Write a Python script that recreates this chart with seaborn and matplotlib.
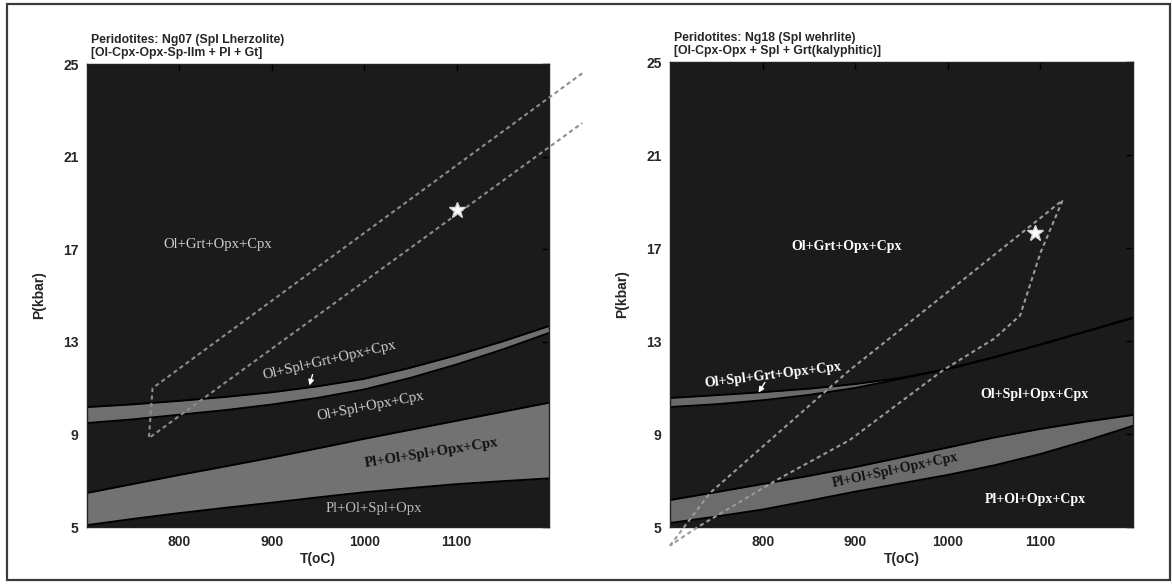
import numpy as np
import pandas as pd
import matplotlib.pyplot as plt
import seaborn as sns
from matplotlib.patches import Rectangle

T_GRID = [700, 750, 800, 850, 900, 950, 1000, 1050, 1100, 1150, 1200]

# Ng07 (left)
ng07_grt_top = [10.18, 10.30, 10.45, 10.62, 10.82, 11.08, 11.40, 11.88, 12.42, 13.02, 13.68]
ng07_grt_bot = [9.49, 9.65, 9.85, 10.05, 10.29, 10.58, 10.94, 11.44, 12.02, 12.67, 13.38]
ng07_pl_top = [6.47, 6.86, 7.25, 7.62, 8.00, 8.40, 8.81, 9.20, 9.59, 9.98, 10.37]
ng07_pl_bot = [5.08, 5.35, 5.60, 5.83, 6.05, 6.28, 6.50, 6.68, 6.85, 6.98, 7.10]
ng07_path_T = [1236, 771, 767, 1236]
ng07_path_P = [24.6, 11.0, 8.84, 22.45]
ng07_star = (1100, 18.7)

# Ng18 (right)
ng18_grt_top = [10.55, 10.67, 10.80, 10.95, 11.15, 11.42, 11.80, 12.30, 12.85, 13.42, 14.00]
ng18_grt_bot = [10.16, 10.28, 10.45, 10.68, 10.98, 11.38, 11.80, 12.30, 12.85, 13.42, 14.00]
ng18_pl_top = [6.16, 6.50, 6.85, 7.20, 7.58, 8.00, 8.42, 8.85, 9.22, 9.54, 9.82]
ng18_pl_bot = [5.17, 5.45, 5.75, 6.13, 6.52, 6.88, 7.24, 7.65, 8.14, 8.72, 9.35]
ng18_path_T = [700, 743, 894, 1016, 1124, 1100, 1078, 1050, 995, 894, 815, 730, 700]
ng18_path_P = [4.2, 6.46, 11.75, 15.62, 19.06, 16.8, 14.1, 13.1, 11.75, 8.74, 7.02, 5.0, 4.2]
ng18_star = (1094, 17.65)

x_ticks = [800, 900, 1000, 1100]
y_ticks = [5, 9, 13, 17, 21, 25]

titles = ["Peridotites: Ng07 (Spl Lherzolite)\n[Ol-Cpx-Opx-Sp-Ilm + Pl + Gt]",
          "Peridotites: Ng18 (Spl wehrlite)\n[Ol-Cpx-Opx + Spl + Grt(kalyphitic)]"]

sns.set_theme(style="white")
plt.rcParams['font.family'] = ['Liberation Sans', 'DejaVu Sans']
SERIF = ['Liberation Serif', 'DejaVu Serif']

BG = '#1b1b1b'
fig = plt.figure(figsize=(11.72, 5.84), dpi=100)
axL = fig.add_axes([0.0742, 0.0976, 0.3942, 0.7928])
axR = fig.add_axes([0.5717, 0.0976, 0.3951, 0.7962])


def band(ax, lo, hi, color):
    ax.fill_between(T_GRID, lo, hi, color=color, lw=0, zorder=1)
    sns.lineplot(x=T_GRID, y=lo, ax=ax, color='black', lw=1.4, zorder=2)
    sns.lineplot(x=T_GRID, y=hi, ax=ax, color='black', lw=1.4, zorder=2)


def label(ax, t, p, s, rot=0, color='#d0d0d0', bold=False, size=10):
    ax.text(t, p, s, rotation=rot, rotation_mode='anchor', ha='center', va='center',
            family=SERIF, fontsize=size, color=color,
            fontweight='bold' if bold else 'normal', zorder=6)


for ax in (axL, axR):
    ax.set_facecolor(BG)

# ---- left panel ----
band(axL, ng07_grt_bot, ng07_grt_top, '#707070')
band(axL, ng07_pl_bot, ng07_pl_top, '#727272')
sns.lineplot(x=ng07_path_T, y=ng07_path_P, ax=axL, sort=False, estimator=None,
             color='#8c8c8c', lw=1.5, linestyle=(0, (2.0, 1.6)), clip_on=False, zorder=4)
axL.plot(*ng07_star, marker='*', ms=12, color='white', mec='#d8d8d8', zorder=5)
label(axL, 842, 17.2, 'Ol+Grt+Opx+Cpx', size=10.5)
label(axL, 962, 12.2, 'Ol+Spl+Grt+Opx+Cpx', rot=13, size=10.5)
label(axL, 1007, 10.2, 'Ol+Spl+Opx+Cpx', rot=11, size=10.5)
label(axL, 1073, 8.2, 'Pl+Ol+Spl+Opx+Cpx', rot=9, color='#111111', bold=True, size=10.5)
label(axL, 1010, 5.78, 'Pl+Ol+Spl+Opx', color='#bcbcbc', size=10.5)
axL.annotate('', xy=(940, 11.0), xytext=(945, 11.7),
             arrowprops=dict(arrowstyle='-|>', color='white', lw=1, mutation_scale=8), zorder=6)

# ---- right panel ----
band(axR, ng18_grt_bot, ng18_grt_top, '#6a6a6a')
band(axR, ng18_pl_bot, ng18_pl_top, '#6c6c6c')
sns.lineplot(x=ng18_path_T, y=ng18_path_P, ax=axR, sort=False, estimator=None,
             color='#9a9a9a', lw=1.5, linestyle=(0, (2.0, 1.6)), clip_on=False, zorder=4)
axR.plot(*ng18_star, marker='*', ms=12, color='white', mec='#d8d8d8', zorder=5)
label(axR, 891, 17.06, 'Ol+Grt+Opx+Cpx', color='white', bold=True)
label(axR, 811, 11.55, 'Ol+Spl+Grt+Opx+Cpx', rot=7, color='white', bold=True)
label(axR, 1094, 10.68, 'Ol+Spl+Opx+Cpx', color='white', bold=True)
label(axR, 943, 7.45, 'Pl+Ol+Spl+Opx+Cpx', rot=12, color='#111111', bold=True)
label(axR, 1094, 6.2, 'Pl+Ol+Opx+Cpx', color='white', bold=True)
axR.annotate('', xy=(794, 10.68), xytext=(804, 11.32),
             arrowprops=dict(arrowstyle='-|>', color='white', lw=1, mutation_scale=8), zorder=6)

for ax, title in zip((axL, axR), titles):
    ax.set_xlim(700, 1200)
    ax.set_ylim(5, 25)
    ax.set_xticks(x_ticks)
    ax.set_yticks(y_ticks)
    ax.tick_params(direction='in', length=5, width=1, color='black', top=True, right=True,
                   labelsize=10, pad=6)
    for lab in ax.get_xticklabels() + ax.get_yticklabels():
        lab.set_fontweight('bold')
    ax.set_xlabel('T(oC)', fontsize=10, fontweight='bold', labelpad=2)
    ax.set_ylabel('P(kbar)', fontsize=10, fontweight='bold', labelpad=12)
    ax.set_title(title, loc='left', fontsize=8.8, fontweight='bold', pad=6,
                 linespacing=1.1, x=0.008)
    for sp in ax.spines.values():
        sp.set_color('#222222')
        sp.set_linewidth(1)

fig.add_artist(Rectangle((7 / 1172, 4 / 584), 1163 / 1172, 576 / 584,
                         transform=fig.transFigure, fill=False, lw=1.6, ec='#3a3a3a'))

fig.savefig('out.png', dpi=100, facecolor='white')
